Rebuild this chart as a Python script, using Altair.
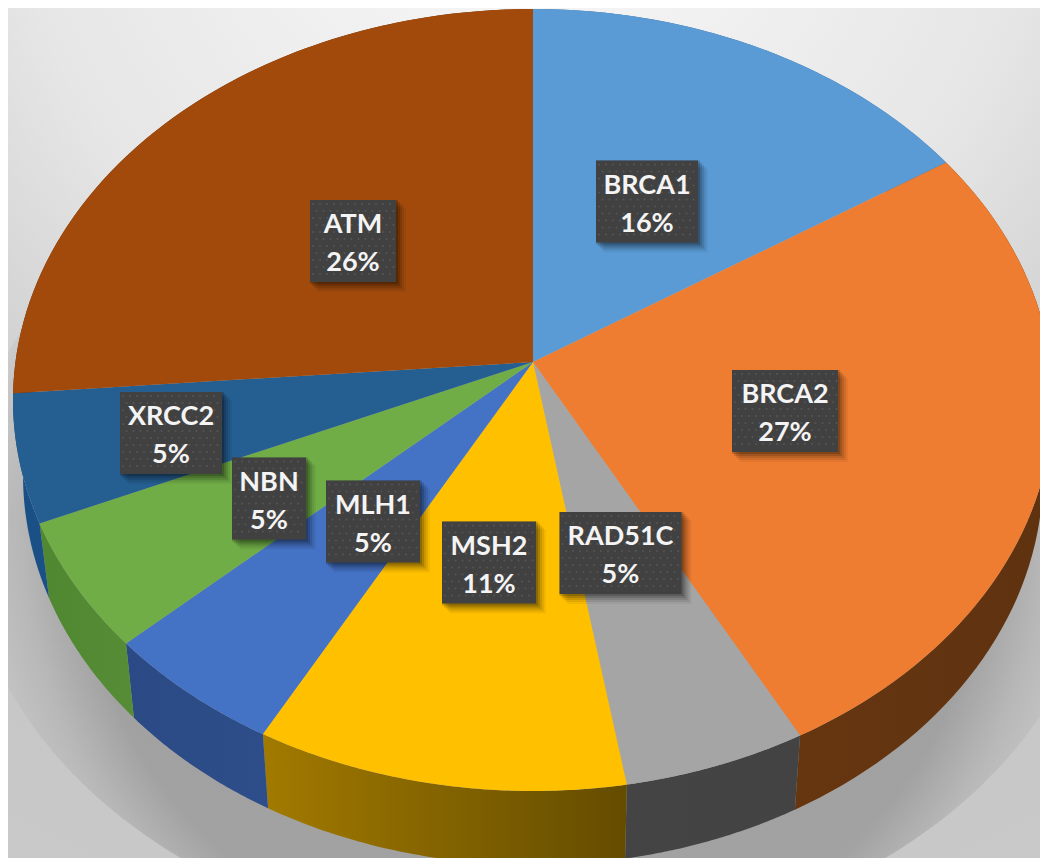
import numpy as np
import pandas as pd
import altair as alt

# categories and shown labels
genes = ["BRCA1", "BRCA2", "RAD51C", "MSH2", "MLH1", "NBN", "XRCC2", "ATM"]
shown = ["16%", "27%", "5%", "11%", "5%", "5%", "5%", "26%"]
# slice sweep as it appears on the tilted disc (degrees)
sweep = [52.6, 96.5, 20.5, 41.7, 20.2, 20.1, 19.4, 89.0]
# colours
top_colors = ["#5B9BD5", "#EF7D31", "#A5A5A5", "#FFC000", "#4472C4", "#70AD47", "#255E91", "#A14A0C"]
side_left = ["#3A6A96", "#663610", "#444444", "#A27A00", "#2B4A85", "#4F8830", "#1A5085", "#6A300A"]
side_right = ["#3A6A96", "#5F3210", "#434343", "#644C00", "#2D4E8A", "#568C36", "#1A5085", "#6A300A"]
# label box centres
box_x = [647, 785, 620.5, 489, 373, 269, 171, 353]
box_y = [201.5, 411, 553, 562.5, 521.5, 498.5, 433, 241]
box_w = [102, 106, 122, 94, 94, 74, 102, 86]
BOX_H = 82

W, H = 1032, 850
OX, OY = 8, 8
HUB = (533, 362)
TOP = dict(cx=533, cy=400, rx=520, ry=391)
BOT = dict(cx=533, cy=475, rx=510, ry=390)


def rim(e, a):
    r = np.radians(a)
    return np.column_stack([e["cx"] + e["rx"] * np.sin(r), e["cy"] - e["ry"] * np.cos(r)])


def feature(points):
    pts = [[float(x - OX), float(y - OY)] for x, y in points]
    pts.append(pts[0])
    return {"type": "Feature", "properties": {}, "geometry": {"type": "Polygon", "coordinates": [pts]}}


def geo(features):
    return alt.Data(values={"type": "FeatureCollection", "features": features},
                    format=alt.DataFormat(property="features", type="json"))


PROJ = dict(type="identity", scale=1, translate=[0, 0])
edges = np.concatenate([[0], np.cumsum(sweep)])
layers = []

# page background
layers.append(
    alt.Chart(pd.DataFrame({"a": [0]})).mark_rect(
        fill=alt.RadialGradient(
            gradient="radial", x1=0.5, y1=-0.08, x2=0.5, y2=-0.08, r1=0, r2=1.25,
            stops=[alt.GradientStop(offset=0, color="#FBFBFB"),
                   alt.GradientStop(offset=0.40, color="#E6E6E6"),
                   alt.GradientStop(offset=0.66, color="#C6C6C6"),
                   alt.GradientStop(offset=1, color="#CACACA")])
    ).encode(x=alt.value(0), x2=alt.value(W), y=alt.value(0), y2=alt.value(H))
)

# soft ground shadow
shadow_e = dict(cx=533, cy=520, rx=570, ry=430)
angles = np.arange(0, 360, 2.0)
layers.append(
    alt.Chart(geo([feature(rim(shadow_e, angles))])).mark_geoshape(
        clip=True, strokeWidth=0,
        fill=alt.RadialGradient(
            gradient="radial", x1=0.5, y1=0.5, x2=0.5, y2=0.5, r1=0, r2=0.5,
            stops=[alt.GradientStop(offset=0, color="rgba(110,110,110,0.42)"),
                   alt.GradientStop(offset=0.8, color="rgba(110,110,110,0.42)"),
                   alt.GradientStop(offset=0.9, color="rgba(110,110,110,0.17)"),
                   alt.GradientStop(offset=1, color="rgba(110,110,110,0)")])
    ).project(**PROJ)
)

# rim walls
for i in range(len(genes)):
    a = np.linspace(edges[i], edges[i + 1], 60)
    pts = np.vstack([rim(TOP, a), rim(BOT, a[::-1])])
    layers.append(
        alt.Chart(geo([feature(pts)])).mark_geoshape(
            clip=True, strokeWidth=0,
            fill=alt.LinearGradient(
                gradient="linear", x1=0, y1=0, x2=1, y2=0,
                stops=[alt.GradientStop(offset=0, color=side_left[i]),
                       alt.GradientStop(offset=1, color=side_right[i])])
        ).project(**PROJ)
    )

# top faces
for i in range(len(genes)):
    a = np.linspace(edges[i], edges[i + 1], 90)
    pts = np.vstack([[HUB], rim(TOP, a)])
    layers.append(
        alt.Chart(geo([feature(pts)])).mark_geoshape(
            clip=True, fill=top_colors[i], strokeWidth=0
        ).project(**PROJ)
    )

labels = pd.DataFrame({"gene": genes, "pct": shown, "cx": box_x, "cy": box_y, "w": box_w})
labels["x0"] = labels.cx - labels.w / 2
labels["x1"] = labels.cx + labels.w / 2
labels["y0"] = labels.cy - BOX_H / 2
labels["y1"] = labels.cy + BOX_H / 2
labels["ny"] = labels.cy - 16
labels["py"] = labels.cy + 22

xs = alt.Scale(domain=[OX, OX + W], range=[0, W])
ys = alt.Scale(domain=[OY, OY + H], range=[0, H])
X = lambda f: alt.X(f, type="quantitative", scale=xs, axis=None)
Y = lambda f: alt.Y(f, type="quantitative", scale=ys, axis=None)

# soft box shadows
for off, op in [(10, 0.05), (8, 0.08), (6, 0.10), (4, 0.14), (2, 0.18)]:
    d = labels.assign(x0=labels.x0 + off - 2, x1=labels.x1 + off,
                      y0=labels.y0 + off - 2, y1=labels.y1 + off)
    layers.append(
        alt.Chart(d).mark_rect(fill="#000000", opacity=op).encode(
            x=X("x0"), x2="x1", y=Y("y0"), y2="y1")
    )

layers.append(
    alt.Chart(labels).mark_rect(fill="#414141").encode(
        x=X("x0"), x2="x1", y=Y("y0"), y2="y1")
)

# dotted fill texture of the label boxes
dot_x, dot_y = [], []
for _, r in labels.iterrows():
    for j, yy in enumerate(np.arange(r.y0 + 4, r.y1 - 1, 7.0)):
        for xx in np.arange(r.x0 + 3 + (j % 2) * 3.5, r.x1 - 1, 7.0):
            dot_x.append(xx)
            dot_y.append(yy)
dots = pd.DataFrame({"x": dot_x, "y": dot_y})
layers.append(
    alt.Chart(dots).mark_circle(size=4, color="#5E5E5E", opacity=0.7).encode(x=X("x"), y=Y("y"))
)

for field, pos in [("gene", "ny"), ("pct", "py")]:
    layers.append(
        alt.Chart(labels).mark_text(
            font="Lato", fontWeight="bold", fontSize=27, color="#F4F4F4",
            align="center", baseline="middle"
        ).encode(x=X("cx"), y=Y(pos), text=alt.Text(field, type="nominal"))
    )

chart = alt.layer(*layers).properties(
    width=W, height=H, padding=0, autosize=alt.AutoSizeParams(type="none")
).configure_view(strokeWidth=0)

chart.save("out.html", embed_options={"renderer": "svg", "actions": False})
